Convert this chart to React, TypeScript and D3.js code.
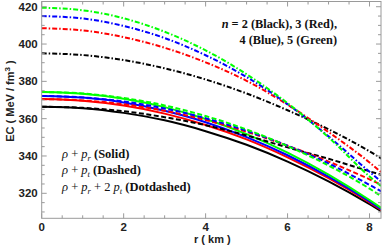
import React from 'react';
import * as d3 from 'd3';

// radial coordinate (km)
const rKm = [0, 1, 2, 3, 4, 5, 6, 7, 8, 8.3];

// rho + p_r (solid) for n = 2, 3, 4, 5
const solidN2 = [366.4, 365.6, 363.1, 359.1, 353.3, 346.0, 337.0, 326.4, 314.2, 310.2];
const solidN3 = [370.5, 369.6, 367.0, 362.7, 356.6, 348.9, 339.3, 328.1, 315.1, 310.8];
const solidN4 = [372.2, 371.3, 368.7, 364.2, 358.1, 350.1, 340.4, 328.9, 315.6, 311.3];
const solidN5 = [374.3, 373.4, 370.7, 366.2, 359.8, 351.7, 341.8, 330.0, 316.4, 312.0];

// rho + p_t (dashed)
const dashedN2 = [366.4, 365.8, 364.0, 360.8, 356.5, 351.0, 344.6, 338.5, 331.8, 329.8];
const dashedN3 = [370.5, 369.8, 367.7, 364.2, 359.3, 353.0, 345.5, 337.0, 327.5, 324.5];
const dashedN4 = [372.2, 371.4, 369.2, 365.5, 360.2, 353.5, 345.5, 336.0, 324.5, 320.9];
const dashedN5 = [374.3, 373.5, 371.1, 367.1, 361.4, 354.2, 345.3, 334.9, 322.5, 318.2];

// rho + p_r + 2 p_t (dotdashed)
const dotdashedN2 = [395.0, 394.1, 391.4, 387.0, 381.0, 373.5, 364.5, 354.3, 342.5, 338.5];
const dotdashedN3 = [408.5, 407.3, 403.7, 398.0, 390.2, 380.3, 367.5, 352.8, 336.5, 331.0];
const dotdashedN4 = [415.0, 413.7, 409.7, 403.2, 394.0, 382.3, 367.8, 350.5, 331.5, 326.0];
const dotdashedN5 = [419.5, 418.1, 413.8, 406.6, 396.6, 383.8, 368.3, 350.0, 329.0, 323.5];

const seriesColors = ['#000000', '#ff0000', '#0000ff', '#00ff00'];

const xTicks = [0, 2, 4, 6, 8];
const yTicks = [320, 340, 360, 380, 400, 420];

const W = 382;
const H = 245;
const L = 41.7;
const R = 381;
const T = 1.5;
const B = 218.3;

export default function App() {
  const x = d3.scaleLinear().domain([0, 8.28]).range([L, R]);
  const y = d3.scaleLinear().domain([306.6, 422.8]).range([B, T]);

  const line = d3
    .line<number>()
    .x((_, i) => x(rKm[i]))
    .y((v) => y(v))
    .curve(d3.curveMonotoneX);

  const groups: { data: number[][]; dash: string | undefined }[] = [
    { data: [solidN2, solidN3, solidN4, solidN5], dash: undefined },
    { data: [dashedN2, dashedN3, dashedN4, dashedN5], dash: '5,2.5' },
    { data: [dotdashedN2, dotdashedN3, dotdashedN4, dotdashedN5], dash: '5,2,1.5,2' },
  ];

  const xMinor = d3.range(0, 8.3, 0.5).filter((v) => !xTicks.includes(v));
  const yMinor = d3.range(310, 423, 5).filter((v) => !yTicks.includes(v));

  const frame = '#9a9a9a';
  const tickFont = { fontFamily: 'Liberation Sans, Arial, sans-serif', fontWeight: 700, fontSize: 11.5, fill: '#222' };
  const serif = 'Liberation Serif, Times New Roman, serif';

  return (
    <svg width={W} height={H} style={{ position: 'absolute', left: 0, top: 0, background: '#fff' }}>
      <defs>
        <clipPath id="plotclip">
          <rect x={L} y={T} width={R - L} height={B - T} />
        </clipPath>
      </defs>
      <rect x={0} y={0} width={W} height={H} fill="#fff" />

      {/* curves */}
      <g clipPath="url(#plotclip)" fill="none">
        {groups.map((g, gi) =>
          g.data.map((d, si) => (
            <path
              key={`${gi}-${si}`}
              d={line(d) || ''}
              stroke={seriesColors[si]}
              strokeWidth={2}
              strokeDasharray={g.dash}
            />
          ))
        )}
      </g>

      {/* frame */}
      <rect x={L} y={T} width={R - L} height={B - T} fill="none" stroke={frame} strokeWidth={1} />

      {/* x ticks */}
      {xTicks.map((t) => (
        <g key={`xt${t}`}>
          <line x1={x(t)} x2={x(t)} y1={B} y2={B - 5} stroke={frame} />
          <line x1={x(t)} x2={x(t)} y1={T} y2={T + 5} stroke={frame} />
          <text x={x(t)} y={B + 13} textAnchor="middle" {...tickFont}>
            {t}
          </text>
        </g>
      ))}
      {xMinor.map((t) => (
        <g key={`xm${t}`}>
          <line x1={x(t)} x2={x(t)} y1={B} y2={B - 3} stroke={frame} />
          <line x1={x(t)} x2={x(t)} y1={T} y2={T + 3} stroke={frame} />
        </g>
      ))}

      {/* y ticks */}
      {yTicks.map((t) => (
        <g key={`yt${t}`}>
          <line x1={L} x2={L + 5} y1={y(t)} y2={y(t)} stroke={frame} />
          <line x1={R} x2={R - 5} y1={y(t)} y2={y(t)} stroke={frame} />
          <text x={L - 4} y={y(t) + 4} textAnchor="end" {...tickFont}>
            {t}
          </text>
        </g>
      ))}
      {yMinor.map((t) => (
        <g key={`ym${t}`}>
          <line x1={L} x2={L + 3} y1={y(t)} y2={y(t)} stroke={frame} />
          <line x1={R} x2={R - 3} y1={y(t)} y2={y(t)} stroke={frame} />
        </g>
      ))}

      {/* axis labels */}
      <text x={(L + R) / 2 + 1} y={243} textAnchor="middle" {...tickFont} fontSize={11}>
        r ( km )
      </text>
      <text
        transform={`translate(14, ${101}) rotate(-90)`}
        textAnchor="middle"
        {...tickFont}
        fontSize={11}
      >
        EC ( MeV / fm
        <tspan fontSize={8} dy={-4}>3</tspan>
        <tspan dy={4}> )</tspan>
      </text>

      {/* legend top-right */}
      <text x={337} y={28} textAnchor="end" fontFamily={serif} fontWeight={700} fontSize={12.3} fill="#111">
        <tspan fontStyle="italic">n</tspan> = 2 (Black), 3 (Red),
      </text>
      <text x={337} y={44} textAnchor="end" fontFamily={serif} fontWeight={700} fontSize={12.3} fill="#111">
        4 (Blue), 5 (Green)
      </text>

      {/* legend bottom-left */}
      <text x={62} y={158} fontFamily={serif} fontSize={12.5} fill="#111">
        <tspan fontStyle="italic">ρ</tspan> + <tspan fontStyle="italic">p</tspan>
        <tspan fontStyle="italic" fontSize={8.5} dy={2.5}>r</tspan>
        <tspan dy={-2.5} fontWeight={700}> (Solid)</tspan>
      </text>
      <text x={62} y={174} fontFamily={serif} fontSize={12.5} fill="#111">
        <tspan fontStyle="italic">ρ</tspan> + <tspan fontStyle="italic">p</tspan>
        <tspan fontStyle="italic" fontSize={8.5} dy={2.5}>t</tspan>
        <tspan dy={-2.5} fontWeight={700}> (Dashed)</tspan>
      </text>
      <text x={62} y={191} fontFamily={serif} fontSize={12.5} fill="#111">
        <tspan fontStyle="italic">ρ</tspan> + <tspan fontStyle="italic">p</tspan>
        <tspan fontStyle="italic" fontSize={8.5} dy={2.5}>r</tspan>
        <tspan dy={-2.5}> + 2 </tspan>
        <tspan fontStyle="italic">p</tspan>
        <tspan fontStyle="italic" fontSize={8.5} dy={2.5}>t</tspan>
        <tspan dy={-2.5} fontWeight={700}> (Dotdashed)</tspan>
      </text>
    </svg>
  );
}
